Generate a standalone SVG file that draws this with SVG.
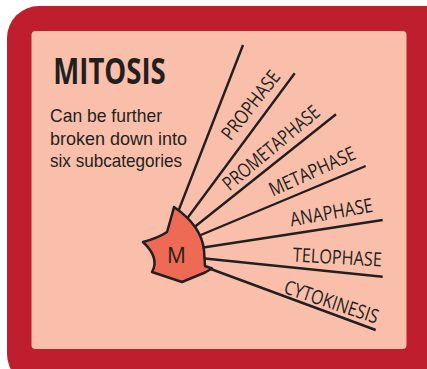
<svg xmlns="http://www.w3.org/2000/svg" width="427" height="369" viewBox="0 0 427 369">
<style>
.ln{stroke:#231f20;stroke-width:2.4;fill:none;stroke-linecap:butt}
.lbl{font-family:"Open Sans","Liberation Sans",sans-serif;font-size:19.5px;fill:#231f20;text-anchor:middle}
.body{font-family:"Liberation Sans","Open Sans",sans-serif;font-size:19px;fill:#231f20}
</style>
<rect x="7" y="6" width="450" height="380" rx="32" fill="#be1e2d"/>
<rect x="31.5" y="31" width="375" height="318" rx="4" fill="#f9bfab"/>
<g id="title">
<text x="53.3" y="84.3" font-family="'Open Sans','Liberation Sans',sans-serif" font-size="35" font-weight="bold" fill="#231f20" textLength="112.4" lengthAdjust="spacingAndGlyphs">MITOSIS</text>
<text class="body" x="50" y="122.3" textLength="112" lengthAdjust="spacingAndGlyphs">Can be further</text>
<text class="body" x="50" y="144.5" textLength="137" lengthAdjust="spacingAndGlyphs">broken down into</text>
<text class="body" x="50" y="166.7" textLength="132" lengthAdjust="spacingAndGlyphs">six subcategories</text>
</g>
<g id="connectors">
<line class="ln" x1="178" y1="212" x2="243" y2="45"/>
<line class="ln" x1="186" y1="220" x2="294.7" y2="73.3"/>
<line class="ln" x1="192" y1="229" x2="336" y2="114.3"/>
<line class="ln" x1="196" y1="237" x2="365.7" y2="166"/>
<line class="ln" x1="200" y1="248" x2="382.7" y2="220"/>
<line class="ln" x1="200" y1="258" x2="382.7" y2="276.7"/>
<line class="ln" x1="200" y1="265" x2="375.7" y2="330"/>
</g>
<g id="node-m">
<path d="M174,207 C190,218 202,232 204,250 L205,266 L212,268.5 L205,272.5 L182,282 L152,272 Q160,258 143,242 Q158,238 167,232 Q170,222 174,207 Z" fill="#ef6a55" stroke="#231f20" stroke-width="2.5" stroke-linejoin="round"/>
<text x="176.5" y="262.7" font-family="'Open Sans','Liberation Sans',sans-serif" font-size="21" fill="#231f20" text-anchor="middle">M</text>
</g>
<g id="label-prophase"><text class="lbl" transform="translate(256,109.2) rotate(-52)" textLength="82" lengthAdjust="spacingAndGlyphs">PROPHASE</text></g>
<g id="label-prometaphase"><text class="lbl" transform="translate(275.5,152.9) rotate(-40)" textLength="120" lengthAdjust="spacingAndGlyphs">PROMETAPHASE</text></g>
<g id="label-metaphase"><text class="lbl" transform="translate(315,177.5) rotate(-24.4)" textLength="93" lengthAdjust="spacingAndGlyphs">METAPHASE</text></g>
<g id="label-anaphase"><text class="lbl" transform="translate(332.5,219) rotate(-10.2)" textLength="84" lengthAdjust="spacingAndGlyphs">ANAPHASE</text></g>
<g id="label-telophase"><text class="lbl" transform="translate(337,264) rotate(3.1)" textLength="89" lengthAdjust="spacingAndGlyphs">TELOPHASE</text></g>
<g id="label-cytokinesis"><text class="lbl" transform="translate(329.3,308.3) rotate(18.5)" textLength="98" lengthAdjust="spacingAndGlyphs">CYTOKINESIS</text></g>
</svg>
